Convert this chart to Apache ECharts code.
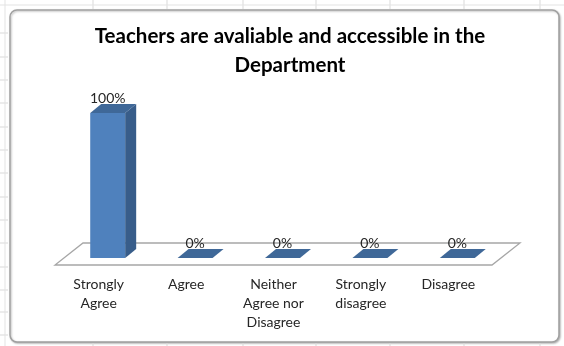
<!DOCTYPE html>
<html>
<head>
<meta charset="utf-8">
<script src="https://cdn.jsdelivr.net/npm/echarts@6/dist/echarts.min.js"></script>
<style>
  html, body { margin: 0; padding: 0; background: #ffffff; }
  #chart { width: 564px; height: 346px; }
</style>
</head>
<body>
<div id="chart"></div>
<script>
// Survey answers and their shares (percent of respondents)
const categories = ['Strongly\nAgree', 'Agree', 'Neither\nAgree nor\nDisagree', 'Strongly\ndisagree', 'Disagree'];
const shares = [100, 0, 0, 0, 0];
const titleLines = ['Teachers are avaliable and accessible in the', 'Department'];

// Pseudo-3D geometry (pixels)
const FLOOR_DX = 28, FLOOR_DY = -22;   // depth of the floor plane
const FRONT_DX = 9, FRONT_DY = -7;     // bar front face offset into the floor
const BAR_DX = 11, BAR_DY = -9;        // bar depth
const BAR_RATIO = 0.40;                // bar width relative to category band

const COLORS = { front: '#4F81BD', side: '#385D8A', top: '#3F6898', floor: '#A6A6A6' };
const FONT = 'Lato, "Open Sans", sans-serif';

const chart = echarts.init(document.getElementById('chart'), null, { renderer: 'canvas' });

// Spreadsheet grid lines visible around the chart frame
const sheetLines = [];
[93, 167, 243, 316, 390, 464, 540].forEach(function (x) {
  sheetLines.push({ type: 'line', shape: { x1: x, y1: 0, x2: x, y2: 9 }, style: { stroke: '#D9D9D9', lineWidth: 1 }, silent: true });
  sheetLines.push({ type: 'line', shape: { x1: x, y1: 343, x2: x, y2: 346 }, style: { stroke: '#D9D9D9', lineWidth: 1 }, silent: true });
});
[33, 57, 80, 103, 127, 150, 173, 197, 220, 243, 267, 290, 312, 335].forEach(function (y) {
  sheetLines.push({ type: 'line', shape: { x1: 0, y1: y, x2: 8, y2: y }, style: { stroke: '#D9D9D9', lineWidth: 1 }, silent: true });
});
sheetLines.push({ type: 'line', shape: { x1: 5, y1: 0, x2: 5, y2: 346 }, style: { stroke: '#E3E3E3', lineWidth: 1 }, silent: true });
sheetLines.push({ type: 'line', shape: { x1: 0, y1: 5, x2: 564, y2: 5 }, style: { stroke: '#E3E3E3', lineWidth: 1 }, silent: true });

function floorItem(params) {
  const cs = params.coordSys;
  const y0 = cs.y + cs.height;
  const xl = cs.x, xr = cs.x + cs.width;
  return {
    type: 'polygon',
    shape: { points: [[xl, y0], [xr, y0], [xr + FLOOR_DX, y0 + FLOOR_DY], [xl + FLOOR_DX, y0 + FLOOR_DY]] },
    style: { fill: '#ffffff', stroke: COLORS.floor, lineWidth: 1.3 }
  };
}

function barItem(params, api) {
  const idx = api.value(0);
  const val = api.value(1);
  const p0 = api.coord([idx, 0]);
  const p1 = api.coord([idx, val]);
  const band = api.size([1, 0])[0];
  const w = band * BAR_RATIO;
  const x0 = p0[0] + FRONT_DX - w / 2;
  const x1 = x0 + w;
  const yb = p0[1] + FRONT_DY;
  const yt = p1[1] + FRONT_DY;
  const children = [];
  if (yb - yt > 0.5) {
    children.push({ type: 'rect', shape: { x: x0, y: yt, width: w, height: yb - yt }, style: { fill: COLORS.front } });
    children.push({ type: 'polygon', shape: { points: [[x1, yb], [x1 + BAR_DX, yb + BAR_DY], [x1 + BAR_DX, yt + BAR_DY], [x1, yt]] }, style: { fill: COLORS.side } });
  }
  children.push({ type: 'polygon', shape: { points: [[x0, yt], [x1, yt], [x1 + BAR_DX, yt + BAR_DY], [x0 + BAR_DX, yt + BAR_DY]] }, style: { fill: COLORS.top } });
  children.push({
    type: 'text',
    style: {
      text: val + '%', x: x0 + w / 2, y: yt + BAR_DY - 6,
      align: 'center', verticalAlign: 'middle',
      fill: '#262626', font: '14px ' + FONT
    }
  });
  return { type: 'group', children: children };
}

chart.setOption({
  backgroundColor: '#ffffff',
  animation: false,
  title: {
    text: titleLines.join('\n'),
    left: 285,
    textAlign: 'center',
    top: 17,
    textStyle: { fontFamily: FONT, fontWeight: 'bold', fontSize: 20.5, lineHeight: 29, color: '#000000' }
  },
  graphic: sheetLines.concat([{
    type: 'rect', z: -1,
    shape: { x: 10, y: 10, width: 549, height: 332, r: 7 },
    style: { fill: '#ffffff', stroke: '#A0A0A0', lineWidth: 1.5, shadowBlur: 2, shadowColor: 'rgba(0,0,0,0.25)', shadowOffsetX: 1, shadowOffsetY: 1 },
    silent: true
  }]),
  grid: { left: 55, right: 72, top: 120, bottom: 81 },
  xAxis: {
    type: 'category',
    data: categories,
    axisLine: { show: false },
    axisTick: { show: false },
    axisLabel: { interval: 0, margin: 10, fontFamily: FONT, fontSize: 14, lineHeight: 19, color: '#262626' },
    splitLine: { show: false }
  },
  yAxis: { type: 'value', min: 0, max: 100, show: false, splitLine: { show: false } },
  series: [
    { type: 'custom', data: [[0]], renderItem: floorItem, z: 1, silent: true },
    {
      type: 'custom', z: 2,
      data: shares.map(function (v, i) { return [i, v]; }),
      encode: { x: 0, y: 1 },
      renderItem: barItem
    }
  ]
});
</script>
</body>
</html>
